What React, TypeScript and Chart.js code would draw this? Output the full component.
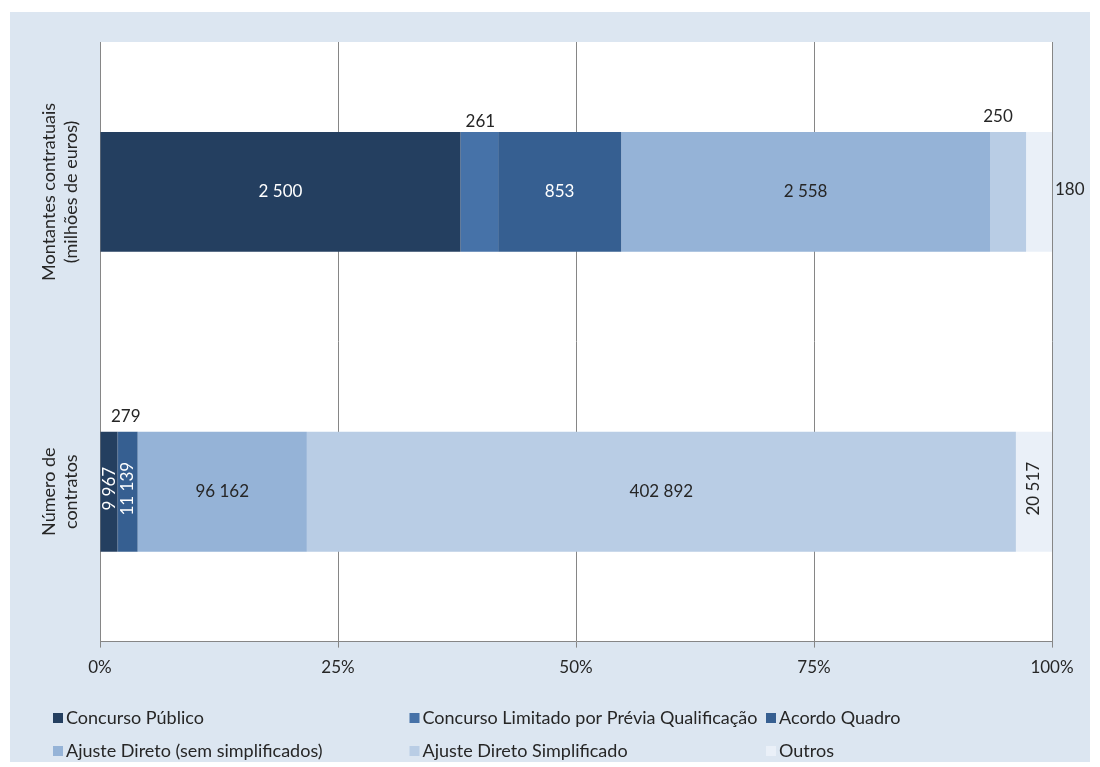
import React, { useEffect, useRef } from "react";
import { Chart, registerables } from "chart.js";

Chart.register(...registerables);

// ---- Data ----
const categories: string[][] = [
  ["Montantes contratuais", "(milhões de euros)"],
  ["Número de", "contratos"],
];
const seriesNames = [
  "Concurso Público",
  "Concurso Limitado por Prévia Qualificação",
  "Acordo Quadro",
  "Ajuste Direto (sem simplificados)",
  "Ajuste Direto Simplificado",
  "Outros",
];
const concursoPublico = [2500, 9967];
const concursoLimitado = [261, 279];
const acordoQuadro = [853, 11139];
const ajusteDireto = [2558, 96162];
const ajusteDiretoSimplificado = [250, 402892];
const outros = [180, 20517];
const xTickValues = [0, 25, 50, 75, 100];

const seriesValues = [
  concursoPublico,
  concursoLimitado,
  acordoQuadro,
  ajusteDireto,
  ajusteDiretoSimplificado,
  outros,
];

// ---- Styles ----
const FONT = "Lato, 'Open Sans', sans-serif";
const TEXT = "#262626";
const seriesColors = ["#243F60", "#4672A8", "#365F91", "#95B3D7", "#B9CDE5", "#EAF0F8"];
const labelColors = ["#ffffff", TEXT, "#ffffff", TEXT, TEXT, TEXT];
// label placement per series, per category
const labelModes = [
  ["in", "rot"],
  ["above", "above"],
  ["in", "rot"],
  ["in", "in"],
  ["above", "in"],
  ["right", "rot"],
];
const aboveOffsets: Record<string, [number, number]> = {
  "1-0": [1, -10],
  "1-1": [8, -15],
  "4-0": [-10, -15],
};

const fmt = (v: number) => String(v).replace(/\B(?=(\d{3})+(?!\d))/g, " ");

const totals = categories.map((_, j) => seriesValues.reduce((s, arr) => s + arr[j], 0));

const plotBgPlugin = {
  id: "plotBg",
  beforeDraw(chart: any) {
    const { ctx, chartArea } = chart;
    ctx.save();
    ctx.fillStyle = "#ffffff";
    ctx.fillRect(chartArea.left, chartArea.top, chartArea.right - chartArea.left, chartArea.bottom - chartArea.top);
    ctx.restore();
  },
};

const segLabelsPlugin = {
  id: "segLabels",
  afterDatasetsDraw(chart: any) {
    const ctx = chart.ctx;
    ctx.save();
    ctx.font = `17px ${FONT}`;
    ctx.textBaseline = "middle";
    chart.data.datasets.forEach((ds: any, i: number) => {
      const meta = chart.getDatasetMeta(i);
      meta.data.forEach((el: any, j: number) => {
        const p = el.getProps(["x", "y", "base", "height"], true);
        const mode = labelModes[i][j];
        const text = fmt(seriesValues[i][j]);
        const cx = (p.x + p.base) / 2;
        const top = p.y - p.height / 2;
        ctx.fillStyle = labelColors[i];
        if (mode === "in") {
          ctx.textAlign = "center";
          ctx.fillText(text, cx, p.y);
        } else if (mode === "rot") {
          ctx.save();
          ctx.translate(cx, p.y - 3);
          ctx.rotate(-Math.PI / 2);
          ctx.textAlign = "center";
          ctx.fillText(text, 0, 0);
          ctx.restore();
        } else if (mode === "above") {
          const [dx, dy] = aboveOffsets[`${i}-${j}`] || [0, -10];
          ctx.textAlign = "center";
          ctx.fillText(text, cx + dx, top + dy);
        } else if (mode === "right") {
          ctx.textAlign = "left";
          ctx.fillText(text, p.x + 3, p.y - 2);
        }
      });
    });
    ctx.restore();
  },
};

const catLabelsPlugin = {
  id: "catLabels",
  afterDraw(chart: any) {
    const ctx = chart.ctx;
    const yScale = chart.scales.y;
    const left = chart.chartArea.left;
    ctx.save();
    ctx.font = `18px ${FONT}`;
    ctx.fillStyle = TEXT;
    ctx.textAlign = "center";
    ctx.textBaseline = "middle";
    (chart.data.labels as string[][]).forEach((lines, j) => {
      const yc = yScale.getPixelForValue(j);
      lines.forEach((line, k) => {
        const x = left - 51 + k * 22;
        ctx.save();
        ctx.translate(x, yc);
        ctx.rotate(-Math.PI / 2);
        ctx.fillText(line, 0, 0);
        ctx.restore();
      });
    });
    ctx.restore();
  },
};

const legendPlugin = {
  id: "gridLegend",
  afterDraw(chart: any) {
    const ctx = chart.ctx;
    ctx.save();
    ctx.font = `18px ${FONT}`;
    ctx.textBaseline = "middle";
    ctx.textAlign = "left";
    chart.data.datasets.forEach((ds: any, i: number) => {
      const col = i % 3;
      const row = Math.floor(i / 3);
      const x = 43 + col * 356.5;
      const y = 706 + row * 33;
      ctx.fillStyle = ds.backgroundColor;
      ctx.fillRect(x, y - 5, 10, 10);
      ctx.fillStyle = TEXT;
      ctx.fillText(ds.label, x + 13, y);
    });
    ctx.restore();
  },
};

export default function App() {
  const canvasRef = useRef<HTMLCanvasElement | null>(null);

  useEffect(() => {
    if (!canvasRef.current) return;
    const chart = new Chart(canvasRef.current, {
      type: "bar",
      data: {
        labels: categories as any,
        datasets: seriesNames.map((name, i) => ({
          label: name,
          data: seriesValues[i].map((v, j) => (v / totals[j]) * 100),
          backgroundColor: seriesColors[i],
          borderWidth: 0,
          categoryPercentage: 1,
          barPercentage: 0.4,
        })),
      },
      options: {
        indexAxis: "y",
        responsive: false,
        animation: false,
        layout: { padding: { left: 82, right: 38, top: 30, bottom: 74 } },
        plugins: {
          legend: { display: false },
          tooltip: { enabled: false },
        },
        scales: {
          x: {
            type: "linear",
            stacked: true,
            min: 0,
            max: 100,
            afterBuildTicks: (scale: any) => {
              scale.ticks = xTickValues.map((v) => ({ value: v }));
            },
            ticks: {
              callback: (v: any) => `${v}%`,
              color: TEXT,
              font: { family: FONT, size: 17 },
              padding: 10,
              maxRotation: 0,
            },
            grid: { color: "#868686", lineWidth: 1, tickLength: 6 },
            border: { display: true, color: "#868686", width: 1 },
          },
          y: {
            type: "category",
            stacked: true,
            ticks: { display: false },
            grid: { display: false },
            border: { display: true, color: "#868686", width: 1 },
          },
        },
      },
      plugins: [plotBgPlugin, segLabelsPlugin, catLabelsPlugin, legendPlugin],
    } as any);
    return () => chart.destroy();
  }, []);

  return (
    <div
      style={{
        position: "fixed",
        left: 10,
        top: 12,
        width: 1080,
        height: 750,
        background: "#DCE6F1",
      }}
    >
      <canvas ref={canvasRef} width={1080} height={750} style={{ display: "block" }} />
    </div>
  );
}
